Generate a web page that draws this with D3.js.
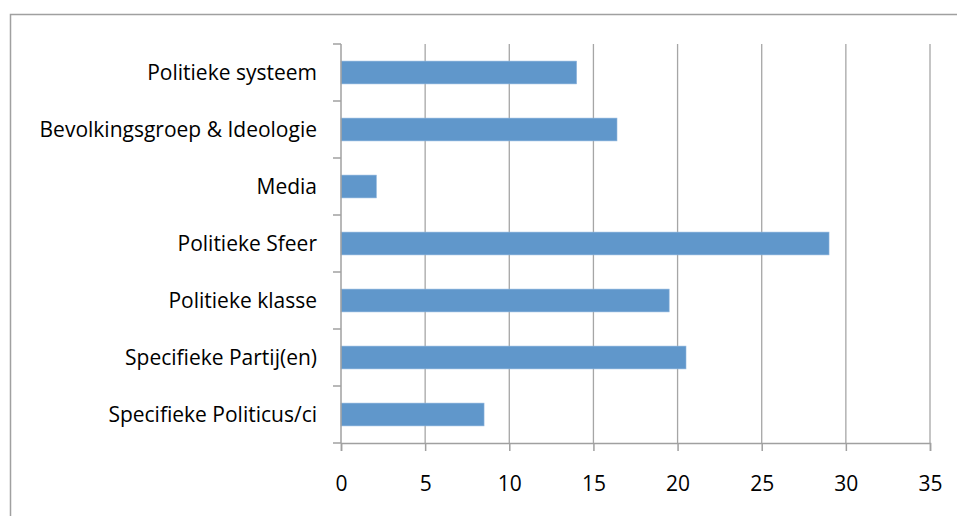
<!DOCTYPE html>
<html lang="nl">
<head>
    <meta charset="UTF-8">
    <title>Politiek</title>
    <script src="https://d3js.org/d3.v7.min.js"></script>
    <style>
        body { margin: 0; background: #fff; }
        svg text { font-family: "Open Sans", Lato, sans-serif; fill: #000; }
    </style>
</head>
<body>
    <div id="chart"></div>
    <script>
        const categories = [
            "Politieke systeem",
            "Bevolkingsgroep & Ideologie",
            "Media",
            "Politieke Sfeer",
            "Politieke klasse",
            "Specifieke Partij(en)",
            "Specifieke Politicus/ci"
        ];
        const values = [14, 16.4, 2.1, 29, 19.5, 20.5, 8.5];
        const xTicks = [0, 5, 10, 15, 20, 25, 30, 35];

        const width = 957, height = 516;
        const margin = { top: 44, right: 27, bottom: 73, left: 341 };

        const svg = d3.select("#chart").append("svg")
            .attr("width", width)
            .attr("height", height);

        // chart frame
        svg.append("rect")
            .attr("x", 10.5).attr("y", 14.5)
            .attr("width", 960).attr("height", 520)
            .attr("fill", "none")
            .attr("stroke", "#a0a0a0")
            .attr("stroke-width", 1.5);

        const x = d3.scaleLinear()
            .domain([0, 35])
            .range([margin.left, width - margin.right]);

        const y = d3.scaleBand()
            .domain(categories)
            .range([margin.top, height - margin.bottom])
            .paddingInner(0.6)
            .paddingOuter(0.3);

        // gridlines
        svg.append("g")
            .selectAll("line")
            .data(xTicks.slice(1))
            .enter().append("line")
            .attr("x1", d => x(d)).attr("x2", d => x(d))
            .attr("y1", margin.top).attr("y2", height - margin.bottom)
            .attr("stroke", "#a6a6a6")
            .attr("stroke-width", 1.3);

        // bars
        svg.append("g")
            .selectAll("rect")
            .data(values)
            .enter().append("rect")
            .attr("x", x(0))
            .attr("y", (d, i) => y(categories[i]))
            .attr("width", d => x(d) - x(0))
            .attr("height", y.bandwidth())
            .attr("fill", "#6097cb")
            .attr("stroke", "#8db4dc")
            .attr("stroke-width", 0.6);

        // x axis
        const xAxis = svg.append("g")
            .attr("transform", `translate(0,${height - margin.bottom})`)
            .call(d3.axisBottom(x).tickValues(xTicks).tickSize(8).tickPadding(25));
        xAxis.select(".domain").attr("stroke", "#a0a0a0").attr("stroke-width", 1.5);
        xAxis.selectAll(".tick line").attr("stroke", "#a0a0a0").attr("stroke-width", 1.5);
        xAxis.selectAll("text").style("font-size", "21px").attr("fill", "#000");

        // y axis
        const yBoundaries = d3.range(categories.length + 1)
            .map(i => margin.top + i * (height - margin.bottom - margin.top) / categories.length);
        const yAxisG = svg.append("g");
        yAxisG.append("line")
            .attr("x1", x(0)).attr("x2", x(0))
            .attr("y1", margin.top).attr("y2", height - margin.bottom)
            .attr("stroke", "#a0a0a0").attr("stroke-width", 1.5);
        yAxisG.selectAll("line.tk")
            .data(yBoundaries)
            .enter().append("line")
            .attr("class", "tk")
            .attr("x1", x(0) - 8).attr("x2", x(0))
            .attr("y1", d => d).attr("y2", d => d)
            .attr("stroke", "#a0a0a0").attr("stroke-width", 1.5);
        yAxisG.selectAll("text")
            .data(categories)
            .enter().append("text")
            .attr("x", x(0) - 24)
            .attr("y", d => y(d) + y.bandwidth() / 2)
            .attr("dy", "0.35em")
            .attr("text-anchor", "end")
            .style("font-size", "21px")
            .text(d => d);
    </script>
</body>
</html>
